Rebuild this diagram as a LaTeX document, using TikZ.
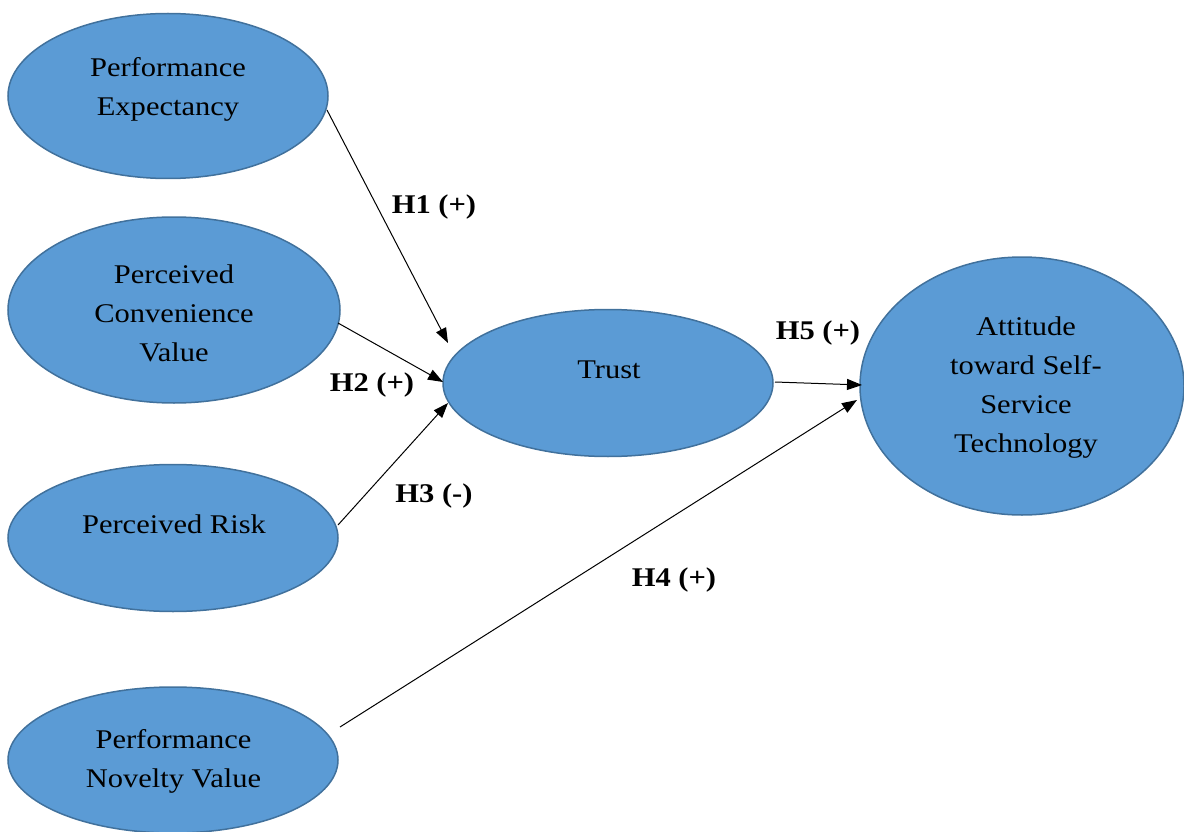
\documentclass[tikz,border=0pt]{standalone}
\usepackage{fontspec}
\setmainfont[FakeStretch=1.13]{Liberation Serif}
\usetikzlibrary{arrows.meta,shapes.geometric}
\definecolor{efill}{HTML}{5B9BD5}
\definecolor{edraw}{HTML}{41719C}
\tikzset{
  ell/.style={ellipse, fill=efill, draw=edraw, line width=1.5pt, inner sep=0pt},
  txt/.style={anchor=base, inner sep=0pt, font=\fontsize{27}{39}\selectfont},
  hyp/.style={anchor=base, inner sep=0pt, font=\fontsize{27}{39}\selectfont\bfseries},
  conn/.style={line width=1pt, -{Triangle[length=15pt,width=11pt]}}
}
\newcommand{\mlines}[1]{\begin{tabular}[t]{@{}c@{}}#1\end{tabular}}
\begin{document}
\begin{tikzpicture}[x=1pt,y=-1pt]
\useasboundingbox (0,0) rectangle (1184,832);
% ellipses
\node[ell, minimum width=320pt, minimum height=165pt] (pe) at (168,96) {};
\node[ell, minimum width=332pt, minimum height=186pt] (pcv) at (174,310) {};
\node[ell, minimum width=330pt, minimum height=147pt] (pr) at (173,538) {};
\node[ell, minimum width=330pt, minimum height=146pt] (pnv) at (173,760) {};
\node[ell, minimum width=330pt, minimum height=147pt] (trust) at (608,383) {};
\node[ell, minimum width=324pt, minimum height=258pt] (att) at (1022,386) {};
% texts
\node[txt] (pe-t) at (168,77) {\mlines{Performance\\Expectancy}};
\node[txt] (pcv-t) at (174,283) {\mlines{Perceived\\Convenience\\Value}};
\node[txt] (pr-t) at (174,533) {Perceived Risk};
\node[txt] (pnv-t) at (173.5,748) {\mlines{Performance\\Novelty Value}};
\node[txt] (trust-t) at (609,378) {Trust};
\node[txt] (att-t) at (1026,335) {\mlines{Attitude\\toward Self-\\Service\\Technology}};
% connector end points
\coordinate (h1s) at (327,110);
\coordinate (h1e) at (448,343);
\coordinate (h2s) at (338,323);
\coordinate (h2e) at (443,382);
\coordinate (h3s) at (338,525);
\coordinate (h3e) at (448,403);
\coordinate (h4s) at (340,727);
\coordinate (h4e) at (857,400);
\coordinate (h5s) at (775,382);
\coordinate (h5e) at (862,385);
\draw[conn] (h1s) -- (h1e);
\draw[conn] (h2s) -- (h2e);
\draw[conn] (h3s) -- (h3e);
\draw[conn] (h4s) -- (h4e);
\draw[conn] (h5s) -- (h5e);
% hypothesis labels
\node[hyp] (l1) at (434,213) {H1 (+)};
\node[hyp] (l2) at (372,391) {H2 (+)};
\node[hyp] (l3) at (434,502) {H3 (-)};
\node[hyp] (l4) at (674,586) {H4 (+)};
\node[hyp] (l5) at (818,339) {H5 (+)};
\end{tikzpicture}
\end{document}
